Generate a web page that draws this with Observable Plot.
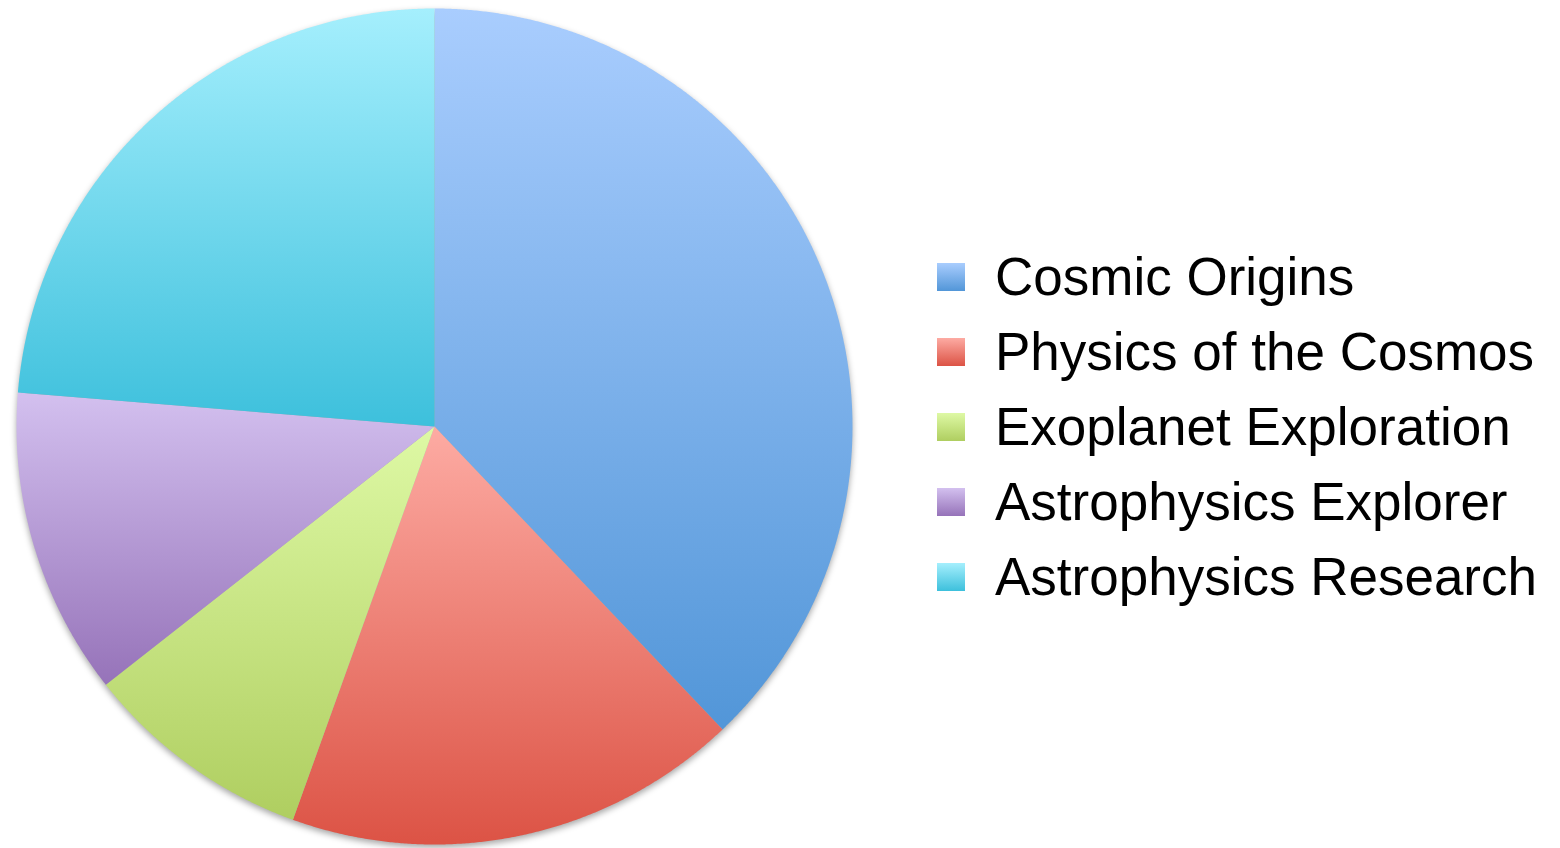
<!DOCTYPE html>
<html>
<head>
<meta charset="utf-8">
<script src="https://cdn.jsdelivr.net/npm/d3@7"></script>
<script src="https://cdn.jsdelivr.net/npm/@observablehq/plot@0.6"></script>
<style>
  html, body { margin: 0; padding: 0; background: #fff; }
  #wrap { position: relative; width: 1560px; height: 848px; overflow: hidden; font-family: "Liberation Sans", Arial, Helvetica, sans-serif; }
  #chart { position: absolute; left: 0; top: 0; }
  #chart svg { filter: drop-shadow(0px 3px 3px rgba(0,0,0,0.35)); }
  #legend { position: absolute; left: 937px; top: 0; }
  .item { position: absolute; left: 0; height: 60px; white-space: nowrap; }
  .sw { position: absolute; left: 0; width: 28px; height: 28px; }
  .lab { position: absolute; left: 58px; font-size: 53px; line-height: 60px; color: #000; }
</style>
</head>
<body>
<svg width="0" height="0" style="position:absolute">
  <defs id="defs"></defs>
</svg>
<div id="wrap">
  <div id="chart"></div>
  <div id="legend"></div>
</div>
<script>
const categories = ["Cosmic Origins", "Physics of the Cosmos", "Exoplanet Exploration", "Astrophysics Explorer", "Astrophysics Research"];
const values = [37.9, 17.6, 8.9, 11.9, 23.7];
const colorTop = ["#a9cdfe", "#fdaba3", "#def9a5", "#d3c0ef", "#a5effd"];
const colorBottom = ["#5296d8", "#dc5345", "#afce60", "#9673b9", "#3dc0dc"];

// gradient defs
const ns = "http://www.w3.org/2000/svg";
const defs = document.getElementById("defs");
categories.forEach((c, i) => {
  const g = document.createElementNS(ns, "linearGradient");
  g.setAttribute("id", "g" + i);
  g.setAttribute("x1", "0"); g.setAttribute("y1", "0");
  g.setAttribute("x2", "0"); g.setAttribute("y2", "1");
  [[0, colorTop[i]], [1, colorBottom[i]]].forEach(([o, col]) => {
    const s = document.createElementNS(ns, "stop");
    s.setAttribute("offset", o);
    s.setAttribute("stop-color", col);
    g.appendChild(s);
  });
  defs.appendChild(g);
});

// pie geometry in data space [-1,1]
const arcs = d3.pie().sort(null)(values);
const slices = arcs.map((a, i) => {
  const pts = [{x: 0, y: 0}];
  const n = Math.max(2, Math.ceil((a.endAngle - a.startAngle) / (Math.PI / 720)));
  for (let k = 0; k <= n; k++) {
    const t = a.startAngle + (a.endAngle - a.startAngle) * k / n;
    pts.push({x: Math.sin(t), y: Math.cos(t)});
  }
  pts.push({x: 0, y: 0});
  return pts;
});

const plot = Plot.plot({
  width: 900,
  height: 848,
  marginLeft: 16,
  marginRight: 48,
  marginTop: 8,
  marginBottom: 4,
  x: {domain: [-1, 1], axis: null},
  y: {domain: [-1, 1], axis: null},
  marks: slices.map((pts, i) =>
    Plot.line(pts, {x: "x", y: "y", fill: `url(#g${i})`, stroke: "none", curve: "linear"})
  )
});
document.getElementById("chart").appendChild(plot);

// legend
const legend = document.getElementById("legend");
const rowCenters = [277, 352, 427, 502, 577];
categories.forEach((c, i) => {
  const item = document.createElement("div");
  item.className = "item";
  item.style.top = (rowCenters[i] - 30) + "px";
  const sw = document.createElement("div");
  sw.className = "sw";
  sw.style.top = "16px";
  sw.style.background = `linear-gradient(to bottom, ${colorTop[i]}, ${colorBottom[i]})`;
  const lab = document.createElement("div");
  lab.className = "lab";
  lab.style.top = "0px";
  lab.textContent = c;
  item.appendChild(sw);
  item.appendChild(lab);
  legend.appendChild(item);
});
</script>
</body>
</html>
